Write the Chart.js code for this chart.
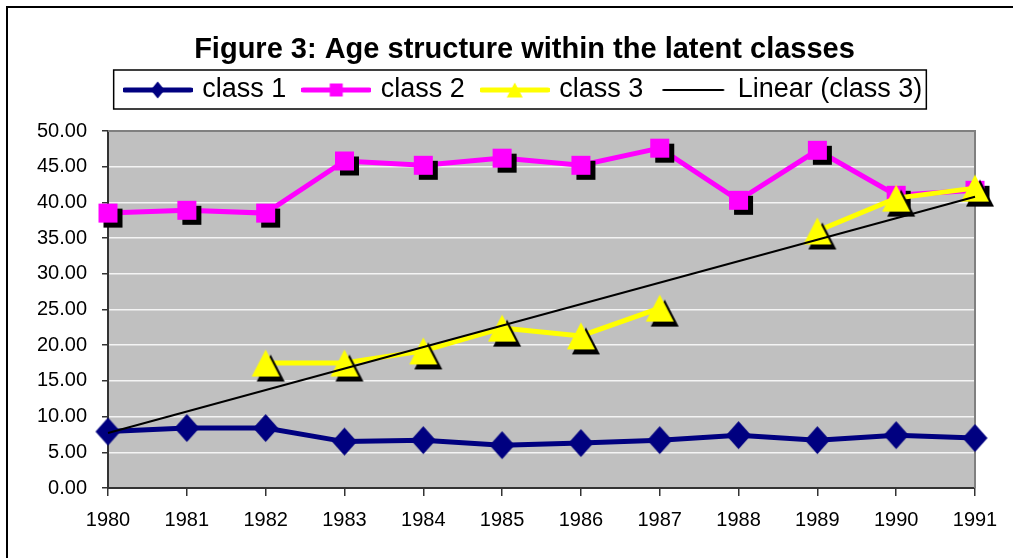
<!DOCTYPE html>
<html>
<head>
<meta charset="utf-8">
<script src="https://cdn.jsdelivr.net/npm/chart.js@4.4.1/dist/chart.umd.min.js"></script>
<style>
  html, body { margin: 0; padding: 0; background: #fff; }
  #wrap { width: 1013px; height: 558px; }
</style>
</head>
<body>
<div id="wrap"><canvas id="chart" width="1013" height="558"></canvas></div>
<script>
// ===== DATA =====
const years = ['1980', '1981', '1982', '1983', '1984', '1985', '1986', '1987', '1988', '1989', '1990', '1991'];
const class1 = [7.9, 8.4, 8.4, 6.5, 6.7, 6.0, 6.3, 6.7, 7.4, 6.7, 7.4, 7.0];
const class2 = [38.5, 38.9, 38.5, 45.8, 45.2, 46.2, 45.2, 47.6, 40.3, 47.3, 41.0, 41.7];
const class3 = [null, null, 17.5, 17.5, 19.2, 22.4, 21.3, 25.2, null, 36.0, 40.6, 42.0];
// Excel linear trendline of class 3, read at its two ends
const trend3 = [7.7, null, null, null, null, null, null, null, null, null, null, 40.8];
const seriesNames = ['class 1', 'class 2', 'class 3', 'Linear (class 3)'];
const titleText = 'Figure 3: Age structure within the latent classes';

const FONT = "'Liberation Sans', Arial, sans-serif";

// ===== MARKERS =====
function traceShape(ctx, shape, cx, cy, w, h) {
  ctx.beginPath();
  if (shape === 'diamond') {
    ctx.moveTo(cx, cy - h / 2); ctx.lineTo(cx + w / 2, cy); ctx.lineTo(cx, cy + h / 2); ctx.lineTo(cx - w / 2, cy);
  } else if (shape === 'square') {
    ctx.rect(cx - w / 2, cy - h / 2, w, h);
  } else if (shape === 'triangle') {
    ctx.moveTo(cx, cy - h / 2); ctx.lineTo(cx + w / 2, cy + h / 2); ctx.lineTo(cx - w / 2, cy + h / 2);
  }
  ctx.closePath();
}

function makeMarker(shape, color, w, h, shadow) {
  const c = document.createElement('canvas');
  c.width = w + 2 * shadow + 2;
  c.height = h + 2 * shadow + 2;
  const ctx = c.getContext('2d');
  const cx = c.width / 2, cy = c.height / 2;
  if (shadow) { traceShape(ctx, shape, cx + shadow, cy + shadow, w, h); ctx.fillStyle = '#000'; ctx.fill(); }
  traceShape(ctx, shape, cx, cy, w, h);
  ctx.fillStyle = color;
  ctx.fill();
  return c;
}

function makeLegendIcon(shape, color, lineW, len, w, h) {
  const c = document.createElement('canvas');
  c.width = len; c.height = 22;
  const ctx = c.getContext('2d');
  ctx.strokeStyle = color; ctx.lineWidth = lineW; ctx.lineCap = 'round';
  ctx.beginPath(); ctx.moveTo(2, 11); ctx.lineTo(len - 2, 11); ctx.stroke();
  if (shape) { traceShape(ctx, shape, len / 2, 11, w, h); ctx.fillStyle = color; ctx.fill(); }
  return c;
}

const markers = [
  makeMarker('diamond', '#000080', 25, 28, 0),
  makeMarker('square', '#ff00ff', 19, 19, 5),
  makeMarker('triangle', '#ffff00', 28, 27, 5),
];
const legendIcons = [
  makeLegendIcon('diamond', '#000080', 5, 70, 14, 17),
  makeLegendIcon('square', '#ff00ff', 5, 70, 13, 13),
  makeLegendIcon('triangle', '#ffff00', 5, 70, 16, 15),
  makeLegendIcon(null, '#000', 2, 64, 0, 0),
];

// ===== DECORATION =====
const plotDecor = {
  id: 'plotDecor',
  beforeDraw(chart) {
    const { ctx, chartArea: a } = chart;
    ctx.save();
    ctx.fillStyle = '#c0c0c0';
    ctx.fillRect(a.left, a.top, a.right - a.left, a.bottom - a.top);
    ctx.fillStyle = '#000';
    ctx.fillRect(6, 6, 2, chart.height);
    ctx.fillRect(6, 6, chart.width, 2);
    ctx.restore();
  },
  beforeDatasetsDraw(chart) {
    const { ctx, chartArea: a } = chart;
    ctx.save();
    ctx.strokeStyle = '#808080';
    ctx.lineWidth = 2;
    ctx.beginPath();
    ctx.moveTo(a.left, a.top); ctx.lineTo(a.right, a.top); ctx.lineTo(a.right, a.bottom);
    ctx.stroke();
    ctx.restore();
  },
  afterDraw(chart) {
    const hb = chart.legend.legendHitBoxes;
    if (!hb || !hb.length) return;
    const f = hb[0], l = hb[hb.length - 1];
    const ctx = chart.ctx;
    ctx.save();
    ctx.strokeStyle = '#000';
    ctx.lineWidth = 1.5;
    const x0 = f.left - 13, x1 = l.left + l.width + 4;
    ctx.strokeRect(x0, f.top - 6.5, x1 - x0, f.height + 12);
    ctx.restore();
  }
};

// ===== CHART =====
const lineSet = (i, data, color, width, extra) => Object.assign({
  label: seriesNames[i], data, borderColor: color, backgroundColor: color, borderWidth: width,
  pointStyle: markers[i], pointRadius: 10, pointHoverRadius: 10, tension: 0, clip: false, fill: false
}, extra);

new Chart(document.getElementById('chart'), {
  type: 'line',
  data: {
    labels: years,
    datasets: [
      lineSet(0, class1, '#000080', 5, { order: 4 }),
      lineSet(1, class2, '#ff00ff', 5, { order: 3 }),
      lineSet(2, class3, '#ffff00', 5, { order: 2, spanGaps: false }),
      lineSet(3, trend3, '#000000', 2, { order: 1, pointRadius: 0, spanGaps: true, pointStyle: 'circle' }),
    ]
  },
  options: {
    responsive: false,
    animation: false,
    devicePixelRatio: 1,
    events: [],
    layout: { padding: { top: 0, left: 36, right: 0, bottom: 0 } },
    plugins: {
      title: {
        display: true, text: titleText, color: '#000',
        font: { family: FONT, size: 29, weight: 'bold', lineHeight: 0.5 },
        padding: { top: 43, bottom: 0 }
      },
      subtitle: {
        display: true, text: '', weight: 500,
        font: { size: 10, lineHeight: 1 },
        padding: { top: 7.5, bottom: 0 }
      },
      legend: {
        labels: {
          usePointStyle: true, pointStyleWidth: 62, padding: 19, color: '#000',
          font: { family: FONT, size: 27 },
          generateLabels: chart => chart.data.datasets.map((ds, i) => ({
            text: ds.label, pointStyle: legendIcons[i], fillStyle: 'transparent',
            strokeStyle: 'transparent', lineWidth: 0, hidden: false, datasetIndex: i
          }))
        }
      },
      tooltip: { enabled: false }
    },
    scales: {
      x: {
        type: 'category', offset: false,
        ticks: { color: '#000', font: { family: FONT, size: 20 }, padding: 12, autoSkip: false, maxRotation: 0 },
        grid: { drawOnChartArea: false, drawTicks: true, tickLength: 8, tickColor: '#333', lineWidth: 1.5 },
        border: { color: '#333', width: 2 },
        afterFit: s => { s.height = 70; }
      },
      y: {
        min: 0, max: 50,
        ticks: { stepSize: 5, color: '#000', font: { family: FONT, size: 20 }, padding: 15, callback: v => v.toFixed(2) },
        grid: {
          color: c => c.tick.value === 0 ? 'rgba(0,0,0,0)' : '#f4f4f4',
          lineWidth: 1.5, tickColor: '#333', tickLength: 6
        },
        border: { color: '#333', width: 2 },
        afterFit: s => { s.width = 72; }
      },
      // empty right margin so the plot ends where the reference does
      yRight: {
        type: 'linear', position: 'right', display: true,
        ticks: { display: false }, grid: { display: false }, border: { display: false },
        afterFit: s => { s.width = 38; }
      }
    }
  },
  plugins: [plotDecor]
});
</script>
</body>
</html>
